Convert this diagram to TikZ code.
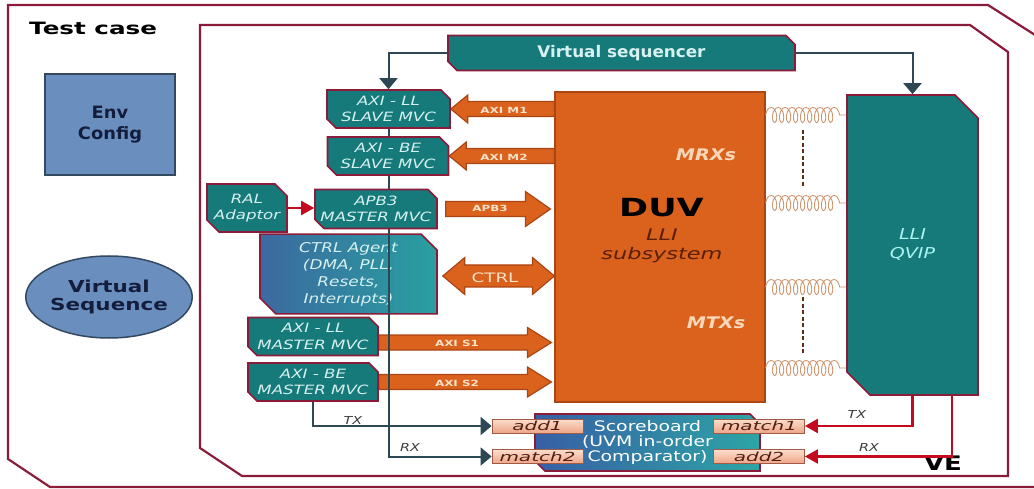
\documentclass[tikz,border=0pt]{standalone}
\usepackage{fontspec}
\setmainfont{DejaVu Sans}
\usetikzlibrary{shapes.misc,shapes.geometric,decorations.pathmorphing,arrows.meta,calc}
\pgfdeclarelayer{bg}
\pgfdeclarelayer{mid}
\pgfsetlayers{bg,mid,main}
\definecolor{teal1}{RGB}{22,122,122}
\definecolor{maroon1}{RGB}{138,28,58}
\definecolor{orange1}{RGB}{218,98,28}
\definecolor{orange2}{RGB}{170,70,20}
\definecolor{envblue}{RGB}{106,143,190}
\definecolor{envborder}{RGB}{52,72,96}
\definecolor{slate}{RGB}{45,72,84}
\definecolor{redarr}{RGB}{196,10,30}
\definecolor{boxtext}{RGB}{215,240,240}
\definecolor{ctrlblue}{RGB}{60,105,160}
\definecolor{ctrlteal}{RGB}{40,160,160}
\definecolor{sbblue}{RGB}{55,95,165}
\definecolor{sbteal}{RGB}{45,165,165}
\definecolor{springc}{RGB}{205,150,110}
\definecolor{dashc}{RGB}{95,45,15}
\definecolor{portlight}{RGB}{252,222,205}
\definecolor{portdark}{RGB}{238,165,135}
\definecolor{portborder}{RGB}{160,90,70}
\definecolor{porttext}{RGB}{80,30,20}
\definecolor{duvtext}{RGB}{90,30,5}
\definecolor{mrx}{RGB}{250,215,185}
\definecolor{arrlabel}{RGB}{250,225,200}
\definecolor{qviptext}{RGB}{170,245,240}
\definecolor{envtext}{RGB}{20,30,60}
\definecolor{lbltext}{RGB}{60,60,60}
\newcommand\sfx[4]{#4\fontsize{#1}{#2}\selectfont\addfontfeature{FakeStretch=#3}}
\newcommand\arrowLeft[5]{\draw[oarr] let \p1=(#1), \p2=(#2) in (\x1,\y1) -- (\x1+#5,\y1+#4) -- (\x1+#5,\y1+#3) -- (\x2,\y1+#3) -- (\x2,\y1-#3) -- (\x1+#5,\y1-#3) -- (\x1+#5,\y1-#4) -- cycle;}
\newcommand\arrowRight[5]{\draw[oarr] let \p1=(#1), \p2=(#2) in (\x1,\y1) -- (\x1-#5,\y1+#4) -- (\x1-#5,\y1+#3) -- (\x2,\y1+#3) -- (\x2,\y1-#3) -- (\x1-#5,\y1-#3) -- (\x1-#5,\y1-#4) -- cycle;}
\newcommand\arrowBoth[5]{\draw[oarr] let \p1=(#1), \p2=(#2) in (\x1,\y1) -- (\x1+#5,\y1+#4) -- (\x1+#5,\y1+#3) -- (\x2-#5,\y1+#3) -- (\x2-#5,\y1+#4) -- (\x2,\y1) -- (\x2-#5,\y1-#4) -- (\x2-#5,\y1-#3) -- (\x1+#5,\y1-#3) -- (\x1+#5,\y1-#4) -- cycle;}
\begin{document}
\begin{tikzpicture}[x=1pt,y=-1pt,
  tealbox/.style={chamfered rectangle, chamfered rectangle corners={north east,south west},
    chamfered rectangle xsep=4.5pt, chamfered rectangle ysep=4.5pt, draw=maroon1, line width=1.6pt,
    fill=teal1, inner sep=0pt, text=boxtext, align=center, font={\sfx{12.8}{16.5}{1.3}{\itshape}}},
  port/.style={rectangle, draw=portborder, line width=0.8pt, top color=portlight, bottom color=portdark,
    minimum width=91pt, minimum height=14pt, inner sep=0pt, text=porttext, font={\sfx{12.5}{13}{1.6}{\itshape}}},
  oarr/.style={fill=orange1, draw=orange2, line width=1.2pt, line join=miter},
  albl/.style={text=arrlabel, font={\sfx{8.5}{10}{1.4}{\bfseries}}, inner sep=0pt},
  sarrow/.style={draw=slate, line width=2pt, -{Triangle[width=18pt,length=11pt]}},
  rarrow/.style={draw=redarr, line width=2.2pt, -{Triangle[width=14pt,length=13pt]}},
  framel/.style={draw=maroon1, line width=2.2pt, line join=miter},
  springline/.style={draw=springc, line width=0.9pt, decorate,
    decoration={coil, aspect=0.5, segment length=7pt, amplitude=7.5pt}},
  dashbrown/.style={draw=dashc, line width=2.5pt, dash pattern=on 4pt off 2.5pt},
  txlbl/.style={text=lbltext, font={\sfx{11}{12}{1.3}{\itshape}}, inner sep=0pt}]
\useasboundingbox (0,0) rectangle (1034,489);

% ---------- main nodes ----------
\node[tealbox, minimum width=347pt, minimum height=35pt, font={\sfx{16}{18}{1.05}{\bfseries}}] (vseq) at (621.5,53) {Virtual sequencer};
\node[tealbox, minimum width=123pt, minimum height=38pt] (axiLLs) at (388.5,109) {AXI - LL\\SLAVE MVC};
\node[tealbox, minimum width=121pt, minimum height=38pt] (axiBEs) at (388,156) {AXI - BE\\SLAVE MVC};
\node[tealbox, minimum width=80pt, minimum height=48pt, chamfered rectangle xsep=6pt, chamfered rectangle ysep=6pt] (ral) at (247,208) {RAL\\Adaptor};
\node[tealbox, minimum width=122pt, minimum height=39pt] (apb3m) at (376,209) {APB3\\MASTER MVC};
\node[tealbox, minimum width=130pt, minimum height=38pt] (axiLLm) at (313,336.5) {AXI - LL\\MASTER MVC};
\node[tealbox, minimum width=130pt, minimum height=38pt] (axiBEm) at (313,382) {AXI - BE\\MASTER MVC};
\node[tealbox, minimum width=131pt, minimum height=300pt, chamfered rectangle xsep=13pt, chamfered rectangle ysep=10pt,
  text=qviptext, font={\sfx{15}{19}{1.27}{\itshape}}] (qvip) at (912.5,245) {LLI\\QVIP};

\node[draw=orange2, fill=orange1, line width=1.2pt, minimum width=210pt, minimum height=310pt, inner sep=0pt] (duv) at (660,247) {};
\node[font={\sfx{25}{28}{1.4}{\bfseries}}, text=black, inner sep=0pt] (duvt) at (661.5,207.5) {DUV};
\node[font={\sfx{16}{19}{1.4}{\itshape}}, text=duvtext, align=center, inner sep=0pt] (duvs) at (662,246) {LLI\\subsystem};
\node[font={\sfx{16}{17}{1.2}{\bfseries\itshape}}, text=mrx, inner sep=0pt] (mrxs) at (706,155) {MRXs};
\node[font={\sfx{16}{17}{1.2}{\bfseries\itshape}}, text=mrx, inner sep=0pt] (mtxs) at (716,323) {MTXs};

\node[tealbox, chamfered rectangle xsep=5pt, chamfered rectangle ysep=5pt, left color=sbblue, right color=sbteal,
  minimum width=225pt, minimum height=57pt, text=white, font={\sfx{14.5}{15}{1.3}{}}] (sb) at (647.5,442.5) {Scoreboard\\(UVM in-order\\Comparator)};
\node[port] (add1) at (537.5,426) {add1};
\node[port] (match1) at (759,426) {match1};
\node[port] (match2) at (537.5,456.5) {match2};
\node[port] (add2) at (759,456.5) {add2};

\node[draw=envborder, fill=envblue, line width=1.8pt, minimum width=130pt, minimum height=101pt, inner sep=0pt,
  align=center, text=envtext, font={\sfx{17}{21}{1.05}{\bfseries}}] (env) at (110,124.5) {Env\\Config};
\node[ellipse, draw=envborder, fill=envblue, line width=1.5pt, minimum width=165pt, minimum height=82pt, inner sep=0pt,
  align=center, text=envtext, font={\sfx{16.5}{18.5}{1.3}{\bfseries}}] (vsq) at (109,297) {Virtual\\Sequence};
\node[anchor=west, inner sep=0pt, font={\sfx{17}{20}{1.45}{\bfseries}}] (tc) at (29,28) {Test case};
\node[inner sep=0pt, font={\sfx{20}{22}{1.3}{\bfseries}}] (ve) at (943,463) {VE};

\node[txlbl] (tx1) at (353,420) {TX};
\node[txlbl] (rx1) at (410,447) {RX};
\node[txlbl] (tx2) at (857,414) {TX};
\node[txlbl] (rx2) at (869,447) {RX};

% ---------- background ----------
\begin{pgfonlayer}{bg}
\fill[white] (0,0) rectangle (1034,489);
\draw[framel] (8,5) -- (988,5) -- (1046,42) -- (1046,487) -- (50,487) -- (8,459) -- cycle;
\draw[framel, fill=white] (200,25) -- (970,25) -- (1008,52) -- (1008,476) -- (242,476) -- (200,448) -- cycle;
\node[tealbox, left color=ctrlblue, right color=ctrlteal, minimum width=177pt, minimum height=69pt,
  chamfered rectangle xsep=8pt, chamfered rectangle ysep=8pt, font={\sfx{13.5}{17}{1.25}{\itshape}}] (ctrl) at (348.5,274) {CTRL Agent\\(DMA, PLL,\\Resets,\\Interrupts)};
\arrowLeft{axiLLs.east}{duv.west}{7.5pt}{14pt}{17pt}
\arrowLeft{axiBEs.east}{duv.west}{7.5pt}{14pt}{17pt}
\arrowRight{$(duv.west |- apb3m.east)+(-4,0)$}{$(apb3m.east)+(8,0)$}{7.5pt}{17.5pt}{25pt}
\arrowBoth{$(ctrl.east)+(5,2)$}{duv.west}{11pt}{18.5pt}{22pt}
\arrowRight{$(duv.west |- axiLLm.east)+(-3,6)$}{axiLLm.east}{7.5pt}{15pt}{24pt}
\arrowRight{$(duv.west |- axiBEm.east)+(-3,0)$}{axiBEm.east}{7.5pt}{15pt}{24pt}
\node[albl] (lm1) at (504,110) {AXI M1};
\node[albl] (lm2) at (504,157) {AXI M2};
\node[albl] (lapb) at (490,208) {APB3};
\node[albl, font={\sfx{13}{15}{1.4}{}}] (lctrl) at (495,278) {CTRL};
\node[albl] (ls1) at (457,343) {AXI S1};
\node[albl] (ls2) at (457,383) {AXI S2};
\end{pgfonlayer}

% ---------- middle layer: RX bus line ----------
\begin{pgfonlayer}{mid}
\draw[sarrow] (axiLLs.south) |- (match2.west);
\end{pgfonlayer}

% ---------- connectors ----------
\draw[sarrow] (vseq.west) -| (axiLLs.north);
\draw[sarrow] (vseq.east) -| (qvip.north);
\draw[sarrow] (axiBEm.south) |- (add1.west);
\draw[rarrow] (ral.east) -- (ral.east -| apb3m.west);
\draw[rarrow] (qvip.south) |- (match1.east);
\coordinate (rxs) at ($(qvip.south)+(39.5,0)$);
\draw[rarrow] (rxs) |- (add2.east);

\draw[springline] (duv.east |- 0,115) -- (qvip.west |- 0,115);
\draw[springline] (duv.east |- 0,203) -- (qvip.west |- 0,203);
\draw[springline] (duv.east |- 0,287) -- (qvip.west |- 0,287);
\draw[springline] (duv.east |- 0,368) -- (qvip.west |- 0,368);
\coordinate (d1a) at (803,130);
\coordinate (d1b) at (803,188);
\coordinate (d2a) at (803,297);
\coordinate (d2b) at (803,355);
\draw[dashbrown] (d1a) -- (d1b);
\draw[dashbrown] (d2a) -- (d2b);
\end{tikzpicture}
\end{document}
